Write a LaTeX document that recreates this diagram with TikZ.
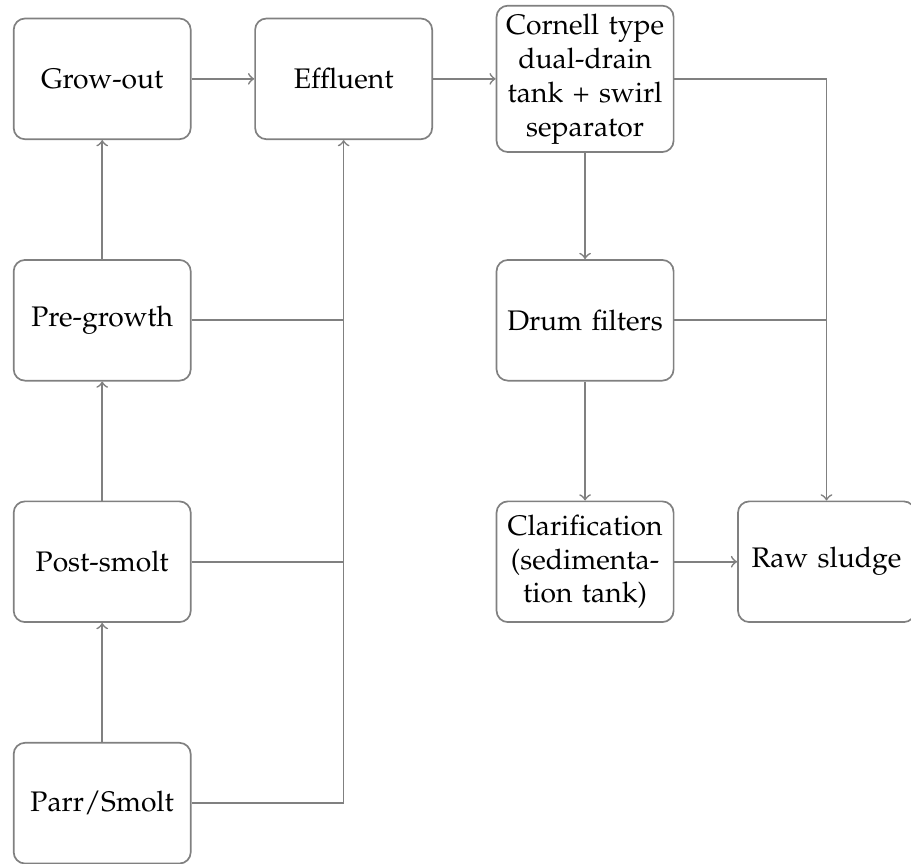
\documentclass[tikz,border=0pt]{standalone}
\usepackage[T1]{fontenc}
\usepackage{mathpazo}
\usepackage{tikz}

\tikzset{
    stage/.style={draw=gray, semithick, rounded corners=4pt, text width=2cm, align=center,
        minimum height=1.5cm, inner sep=0.1cm},
    flow/.style={gray, semithick, ->},
    joint/.style={gray, semithick}
}

\begin{document}
\begin{tikzpicture}
    \useasboundingbox (0, 0) rectangle (11.32, 10.73);
    \node[stage] (growout) at (1.27, 9.75) {Grow-out};
    \node[stage] (pregrowth) at (1.27, 6.75) {Pre-growth};
    \node[stage] (postsmolt) at (1.27, 3.75) {Post-smolt};
    \node[stage] (parr) at (1.27, 0.75) {Parr/Smolt};

    \node[stage] (effluent) at (4.27, 9.75) {Effluent};
    \node[stage] (cornell) at (7.27, 9.75) {Cornell type\\dual-drain\\tank + swirl\\separator};
    \node[stage] (drum) at (7.27, 6.75) {Drum filters};
    \node[stage] (clarif) at (7.27, 3.75) {Clarification\\(sedimenta-\\tion tank)};
    \node[stage] (sludge) at (10.27, 3.75) {Raw sludge};

    \draw[flow] (parr) -- (postsmolt);
    \draw[flow] (postsmolt) -- (pregrowth);
    \draw[flow] (pregrowth) -- (growout);
    \draw[flow] (growout) -- (effluent);

    \draw[flow] (parr.east) -| (effluent.south);
    \draw[joint] (postsmolt.east) -- (postsmolt.east -| effluent.south);
    \draw[joint] (pregrowth.east) -- (pregrowth.east -| effluent.south);

    \draw[flow] (effluent) -- (cornell);
    \draw[flow] (cornell) -- (drum);
    \draw[flow] (drum) -- (clarif);
    \draw[flow] (clarif) -- (sludge);

    \draw[flow] (cornell.east) -| (sludge.north);
    \draw[joint] (drum.east) -- (drum.east -| sludge.north);
\end{tikzpicture}
\end{document}
